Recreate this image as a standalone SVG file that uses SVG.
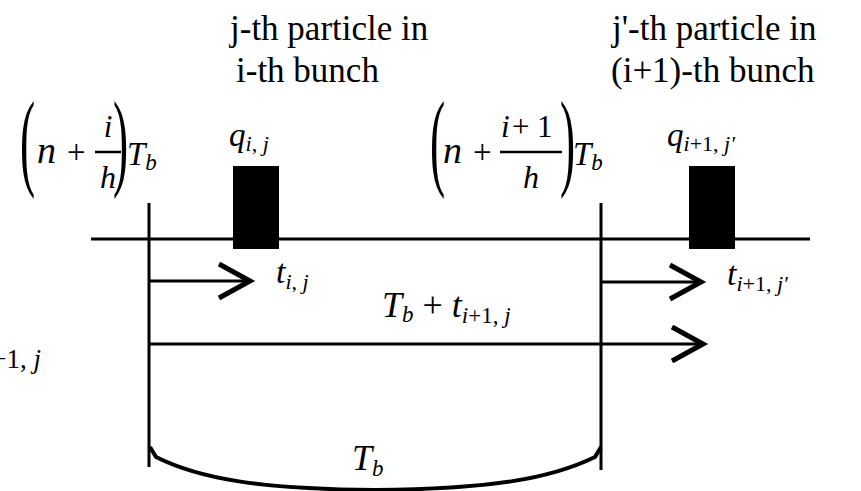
<svg xmlns="http://www.w3.org/2000/svg" width="861" height="491" viewBox="0 0 861 491">
<style>
.ln{stroke:#000;stroke-width:3;fill:none}
.t{font-family:"Liberation Serif","Times New Roman",serif;fill:#000}
.i{font-style:italic}
.par{font-family:"Liberation Serif","Times New Roman",serif;font-size:108px;fill:#000}
</style>
<defs>
<marker id="chev" viewBox="-40 -22 44 44" refX="0" refY="0" markerWidth="44" markerHeight="44" orient="auto" markerUnits="userSpaceOnUse">
<path d="M-33,-17 L-2,0 L-33,17" fill="none" stroke="#000" stroke-width="5"/>
</marker>
</defs>
<rect width="861" height="491" fill="#fff"/>

<g id="labels">
<text class="t" x="230" y="40" font-size="35">j-th particle in</text>
<text class="t" x="236" y="82" font-size="35">i-th bunch</text>
<text class="t" x="612" y="40" font-size="35">j'-th particle in</text>
<text class="t" x="611" y="82" font-size="35">(i+1)-th bunch</text>
</g>

<g id="time-left">
<text class="par" transform="translate(20,176) scale(0.42,1)">(</text>
<text class="t i" x="37" y="163" font-size="38">n</text>
<text class="t" x="67" y="163" font-size="33">+</text>
<text class="t i" x="108" y="137" font-size="31" text-anchor="middle">i</text>
<line x1="95" y1="152" x2="121" y2="152" stroke="#000" stroke-width="2.5"/>
<text class="t i" x="108" y="188" font-size="32" text-anchor="middle">h</text>
<text class="par" transform="translate(113,176) scale(0.42,1)">)</text>
<text class="t i" x="127" y="165" font-size="33">T<tspan font-size="23" dy="5">b</tspan></text>
</g>

<g id="time-right">
<text class="par" transform="translate(430,176) scale(0.42,1)">(</text>
<text class="t i" x="443" y="163" font-size="38">n</text>
<text class="t" x="473" y="163" font-size="33">+</text>
<text class="t" y="137" font-size="31"><tspan class="i" x="501">i</tspan><tspan x="512">+</tspan><tspan x="537">1</tspan></text>
<line x1="500" y1="152" x2="562" y2="152" stroke="#000" stroke-width="2.5"/>
<text class="t i" x="531" y="188" font-size="32" text-anchor="middle">h</text>
<text class="par" transform="translate(560,176) scale(0.42,1)">)</text>
<text class="t i" x="573" y="165" font-size="33">T<tspan font-size="23" dy="5">b</tspan></text>
</g>

<g id="bunch-i">
<rect x="233" y="166" width="46" height="83" fill="#000"/>
<text class="t" x="229" y="146" font-size="33"><tspan class="i">q</tspan><tspan font-size="22" dy="5" class="i">i</tspan><tspan font-size="22">, </tspan><tspan font-size="22" class="i">j</tspan></text>
</g>

<g id="bunch-i1">
<rect x="689" y="166" width="46" height="83" fill="#000"/>
<text class="t" x="667" y="146" font-size="33"><tspan class="i">q</tspan><tspan font-size="22" dy="5" class="i">i</tspan><tspan font-size="22">+1, </tspan><tspan font-size="22" class="i">j′</tspan></text>
</g>

<g id="connectors">
<line class="ln" x1="91" y1="239" x2="810" y2="239"/>
<line class="ln" x1="149" y1="203" x2="149" y2="467"/>
<line class="ln" x1="601" y1="203" x2="601" y2="470"/>
<line class="ln" x1="149" y1="281" x2="252" y2="281" marker-end="url(#chev)"/>
<line class="ln" x1="601" y1="282" x2="703" y2="282" marker-end="url(#chev)"/>
<line class="ln" x1="149" y1="344" x2="705" y2="344" marker-end="url(#chev)"/>
<path d="M150,447 L156,457 C200,479 260,489 375,490 C490,489 550,479 595,457 L601,447" fill="none" stroke="#000" stroke-width="4"/>
</g>

<g id="arrow-labels">
<text class="t" x="276" y="283" font-size="34"><tspan class="i">t</tspan><tspan font-size="22" dy="6" class="i">i</tspan><tspan font-size="22">, </tspan><tspan font-size="22" class="i">j</tspan></text>
<text class="t" x="382" y="317" font-size="36"><tspan class="i">T</tspan><tspan font-size="23" dy="5" class="i">b</tspan><tspan dy="-5"> + </tspan><tspan class="i">t</tspan><tspan font-size="23" dy="6" class="i">i</tspan><tspan font-size="23">+1, </tspan><tspan font-size="23" class="i">j</tspan></text>
<text class="t" x="727" y="285" font-size="34"><tspan class="i">t</tspan><tspan font-size="22" dy="6" class="i">i</tspan><tspan font-size="22">+1, </tspan><tspan font-size="22" class="i">j′</tspan></text>
<text class="t" x="41" y="368" font-size="27" text-anchor="end"><tspan class="i">i</tspan>+1, <tspan class="i">j</tspan></text>
<text class="t i" x="352" y="470" font-size="36">T<tspan font-size="23" dy="6">b</tspan></text>
</g>
</svg>
